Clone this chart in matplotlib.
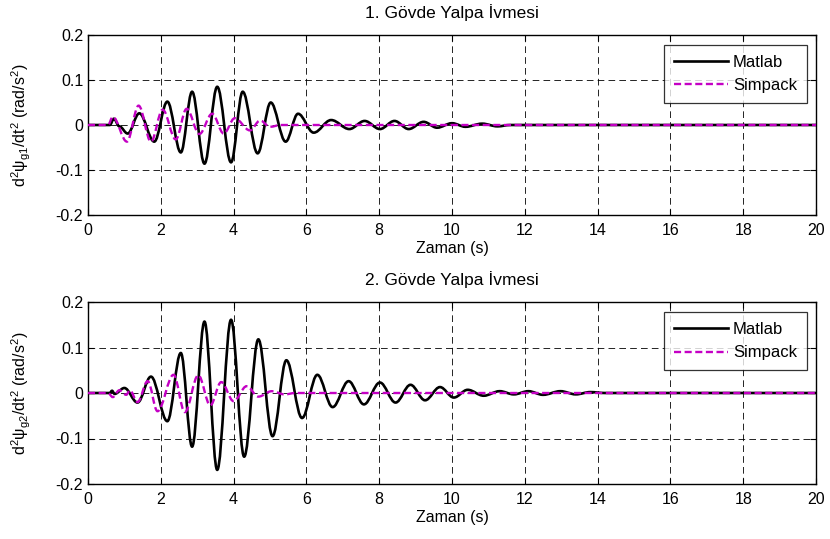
import matplotlib
matplotlib.use("Agg")
import matplotlib.pyplot as plt
from matplotlib.path import Path
from matplotlib.patches import PathPatch
from matplotlib.lines import Line2D

plt.rcParams['font.family'] = ['Liberation Sans', 'DejaVu Sans']
plt.rcParams['mathtext.fontset'] = 'custom'
plt.rcParams['mathtext.rm'] = 'Liberation Sans'
plt.rcParams['mathtext.it'] = 'Liberation Sans'

# --- Data (extrema) ---
t_matlab1 = [0, 0.6, 0.71, 0.86, 1.09, 1.41, 1.82, 2.18, 2.55, 2.86, 3.2, 3.55, 3.93, 4.25, 4.66,
             5.02, 5.43, 5.77, 6.2, 6.68, 7.18, 7.6, 8.02, 8.42, 8.81, 9.22, 9.59, 10.0, 10.37,
             10.83, 11.25, 11.6, 20]
y_matlab1 = [0, 0, 0.014, -0.003, -0.019, 0.026, -0.037, 0.052, -0.061, 0.074, -0.086, 0.085, -0.083,
             0.074, -0.063, 0.050, -0.037, 0.025, -0.017, 0.011, -0.009, 0.009, -0.009, 0.009, -0.009,
             0.007, -0.006, 0.004, -0.004, 0.003, -0.003, 0, 0]

t_simpack1 = [0, 0.55, 0.68, 1.07, 1.39, 1.73, 2.05, 2.41, 2.71, 3.06, 3.41, 3.73, 4.03, 4.45, 4.73,
              5.0, 5.3, 20]
y_simpack1 = [0, 0, 0.018, -0.037, 0.043, -0.037, 0.034, -0.032, 0.036, -0.020, 0.025, -0.019, 0.015,
              -0.012, 0.010, -0.004, 0, 0]

t_matlab2 = [0, 0.6, 0.66, 0.73, 1.0, 1.36, 1.73, 2.18, 2.55, 2.86, 3.2, 3.55, 3.93, 4.29, 4.68, 5.07,
             5.45, 5.88, 6.3, 6.72, 7.16, 7.58, 8.02, 8.45, 8.86, 9.26, 9.67, 10.05, 10.43, 10.87,
             11.31, 11.7, 12.1, 12.5, 12.98, 13.4, 13.8, 14.2, 20]
y_matlab2 = [0, 0, 0.005, -0.002, 0.011, -0.021, 0.036, -0.062, 0.088, -0.118, 0.157, -0.169, 0.161,
             -0.140, 0.118, -0.095, 0.072, -0.055, 0.040, -0.031, 0.026, -0.025, 0.023, -0.021, 0.018,
             -0.016, 0.013, -0.010, 0.007, -0.006, 0.004, -0.003, 0.004, -0.004, 0.004, -0.003, 0.002,
             0, 0]

t_simpack2 = [0, 0.55, 0.68, 0.86, 1.05, 1.15, 1.36, 1.64, 1.91, 2.35, 2.66, 3.03, 3.36, 3.66, 4.0,
              4.36, 4.68, 5.05, 5.4, 5.7, 20]
y_simpack2 = [0, 0, -0.009, 0.006, -0.004, 0.006, -0.020, 0.026, -0.040, 0.040, -0.042, 0.039, -0.027,
              0.024, -0.018, 0.015, -0.008, 0.004, -0.003, 0, 0]

titles = ['1. Gövde Yalpa İvmesi', '2. Gövde Yalpa İvmesi']
ylabels = [r'$\mathregular{d^2\psi_{g1}/dt^2\ (rad/s^2)}$',
           r'$\mathregular{d^2\psi_{g2}/dt^2\ (rad/s^2)}$']
xticks = [0, 2, 4, 6, 8, 10, 12, 14, 16, 18, 20]
yticks = [-0.2, -0.1, 0, 0.1, 0.2]
ytick_labels = ['-0.2', '-0.1', '0', '0.1', '0.2']

series = [(t_matlab1, y_matlab1, t_simpack1, y_simpack1),
          (t_matlab2, y_matlab2, t_simpack2, y_simpack2)]


def smooth_path(ts, ys):
    """Cubic Bezier segments between successive extrema (horizontal tangents at extrema)."""
    verts = [(ts[0], ys[0])]
    codes = [Path.MOVETO]
    k = 0.3634
    for (t0, y0), (t1, y1) in zip(zip(ts[:-1], ys[:-1]), zip(ts[1:], ys[1:])):
        d = t1 - t0
        verts += [(t0 + k * d, y0), (t1 - k * d, y1), (t1, y1)]
        codes += [Path.CURVE4, Path.CURVE4, Path.CURVE4]
    return Path(verts, codes)


W, H = 830, 539
fig = plt.figure(figsize=(W / 100, H / 100), dpi=100)
axes_px = [(88, 35, 816, 215), (88, 302, 816, 484)]
magenta = '#C400C4'
FS = 11.5

for i, (l, t, r, b) in enumerate(axes_px):
    ax = fig.add_axes([l / W, 1 - b / H, (r - l) / W, (b - t) / H])
    tm, ym, ts, ys = series[i]
    pm = PathPatch(smooth_path(tm, ym), fill=False, edgecolor='black', lw=1.9,
                   joinstyle='round', capstyle='round', transform=ax.transData, zorder=3)
    ps = PathPatch(smooth_path(ts, ys), fill=False, edgecolor=magenta, lw=1.7,
                   linestyle=(0, (3, 1.5)), transform=ax.transData, zorder=4)
    ax.add_patch(pm)
    ax.add_patch(ps)
    ax.set_xlim(0, 20)
    ax.set_ylim(-0.2, 0.2)
    ax.set_xticks(xticks)
    ax.set_xticklabels([str(x) for x in xticks])
    ax.set_yticks(yticks)
    ax.set_yticklabels(ytick_labels)
    ax.grid(True, color='black', ls=(0, (8, 5)), lw=0.6)
    ax.tick_params(direction='in', top=True, right=True, length=4, labelsize=FS)
    ax.tick_params(axis='x', pad=6)
    ax.tick_params(axis='y', pad=3.5)
    for s in ax.spines.values():
        s.set_linewidth(1.0)
    ax.set_title(titles[i], fontsize=12.5, pad=12)
    ax.set_xlabel('Zaman (s)', fontsize=FS, labelpad=2)
    ax.set_ylabel(ylabels[i], fontsize=FS)
    ax.yaxis.set_label_coords((33 - l) / (r - l), 0.5)
    handles = [Line2D([], [], color='black', lw=1.9),
               Line2D([], [], color=magenta, lw=1.7, ls=(0, (3, 1.5)))]
    leg = ax.legend(handles, ['Matlab', 'Simpack'], loc='upper right',
                    bbox_to_anchor=(807 / W, 1 - (t + 10) / H),
                    bbox_transform=fig.transFigure, fontsize=12, frameon=True,
                    fancybox=False, edgecolor='black', handlelength=3.25,
                    borderpad=0.6, labelspacing=0.5, handletextpad=0.3,
                    borderaxespad=0)
    leg.get_frame().set_linewidth(0.9)

fig.savefig('out.png', dpi=100)
